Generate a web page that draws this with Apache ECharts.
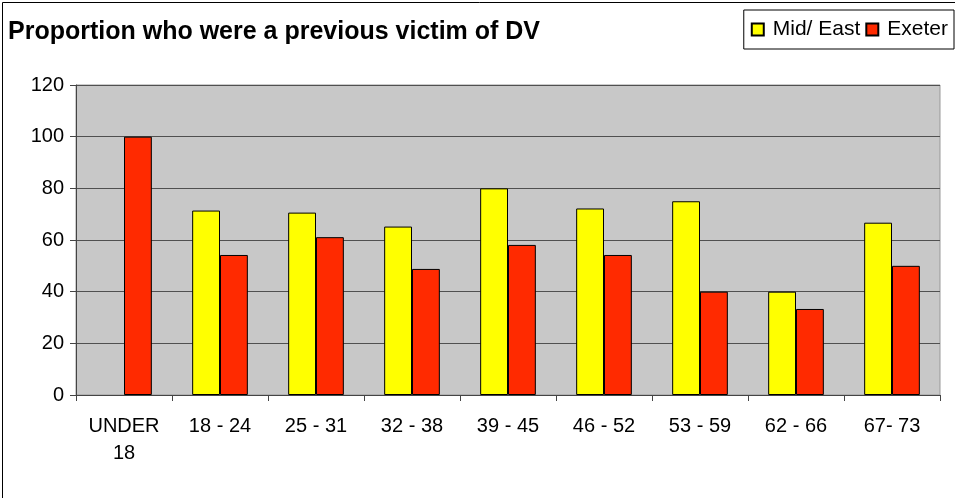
<!DOCTYPE html>
<html>
<head>
<meta charset="utf-8">
<title>Proportion who were a previous victim of DV</title>
<script src="https://cdn.jsdelivr.net/npm/echarts@6/dist/echarts.min.js"></script>
<style>
    html, body { margin: 0; padding: 0; background: #fff; }
    #chart { width: 955px; height: 498px; }
</style>
</head>
<body>
<div id="chart"></div>
<script>
// age bands on the x axis
const ageBands = ['UNDER\n18', '18 - 24', '25 - 31', '32 - 38', '39 - 45', '46 - 52', '53 - 59', '62 - 66', '67- 73'];
// percentages ('-' = no bar)
const midEast = ['-', 71.4, 70.6, 65.2, 80, 72.2, 75, 40, 66.7];
const exeter = [100, 54.2, 61.1, 48.8, 58.1, 54.2, 40, 33.3, 50];
const yTicks = { min: 0, max: 120, step: 20 };

const font = 'Arial, "Liberation Sans", sans-serif';

let myChart = echarts.init(document.getElementById('chart'), null, { renderer: 'canvas' });

let option = {
    backgroundColor: '#fff',
    animation: false,
    textStyle: { fontFamily: font },
    title: {
        text: 'Proportion who were a previous victim of DV',
        left: 3,
        top: 15,
        textStyle: { fontFamily: font, fontSize: 25, fontWeight: 'bold', color: '#000' }
    },
    legend: {
        right: 1,
        top: 10,
        orient: 'horizontal',
        icon: 'rect',
        itemWidth: 12,
        itemHeight: 12,
        itemGap: 5,
        padding: [9, 6, 9, 7],
        borderColor: '#000',
        borderWidth: 1,
        backgroundColor: '#fff',
        textStyle: { fontFamily: font, fontSize: 21, color: '#000', padding: [0, 0, 0, 4] },
        data: ['Mid/ East', 'Exeter']
    },
    grid: {
        left: 76,
        right: 15,
        top: 85,
        bottom: 103,
        show: true,
        backgroundColor: '#C8C8C8',
        borderColor: '#999',
        borderWidth: 1,
        containLabel: false
    },
    xAxis: {
        type: 'category',
        data: ageBands,
        boundaryGap: true,
        axisLine: { show: true, lineStyle: { color: '#444', width: 1 } },
        axisTick: { show: true, inside: false, length: 6, lineStyle: { color: '#444' } },
        axisLabel: {
            fontFamily: font,
            fontSize: 20,
            color: '#000',
            margin: 18,
            lineHeight: 27,
            interval: 0
        },
        splitLine: { show: false }
    },
    yAxis: {
        type: 'value',
        min: yTicks.min,
        max: yTicks.max,
        interval: yTicks.step,
        axisLine: { show: true, lineStyle: { color: '#444', width: 1 } },
        axisTick: { show: true, inside: false, length: 6, lineStyle: { color: '#444' } },
        axisLabel: { fontFamily: font, fontSize: 20, color: '#000', margin: 12 },
        splitLine: { show: true, lineStyle: { color: '#505050', width: 1 } }
    },
    series: [
        {
            name: 'Mid/ East',
            type: 'bar',
            data: midEast,
            barGap: '0%',
            barCategoryGap: '42%',
            itemStyle: { color: '#FFFF00', borderColor: '#000', borderWidth: 1 }
        },
        {
            name: 'Exeter',
            type: 'bar',
            data: exeter,
            barGap: '0%',
            barCategoryGap: '42%',
            itemStyle: { color: '#FF2A00', borderColor: '#000', borderWidth: 1 }
        }
    ],
    graphic: [
        {
            type: 'rect',
            left: 0,
            top: 0,
            silent: true,
            shape: { x: 0.5, y: 0.5, width: 954, height: 497 },
            style: { fill: null, stroke: '#000', lineWidth: 1 },
            z: 100
        }
    ]
};

myChart.setOption(option);
</script>
</body>
</html>
